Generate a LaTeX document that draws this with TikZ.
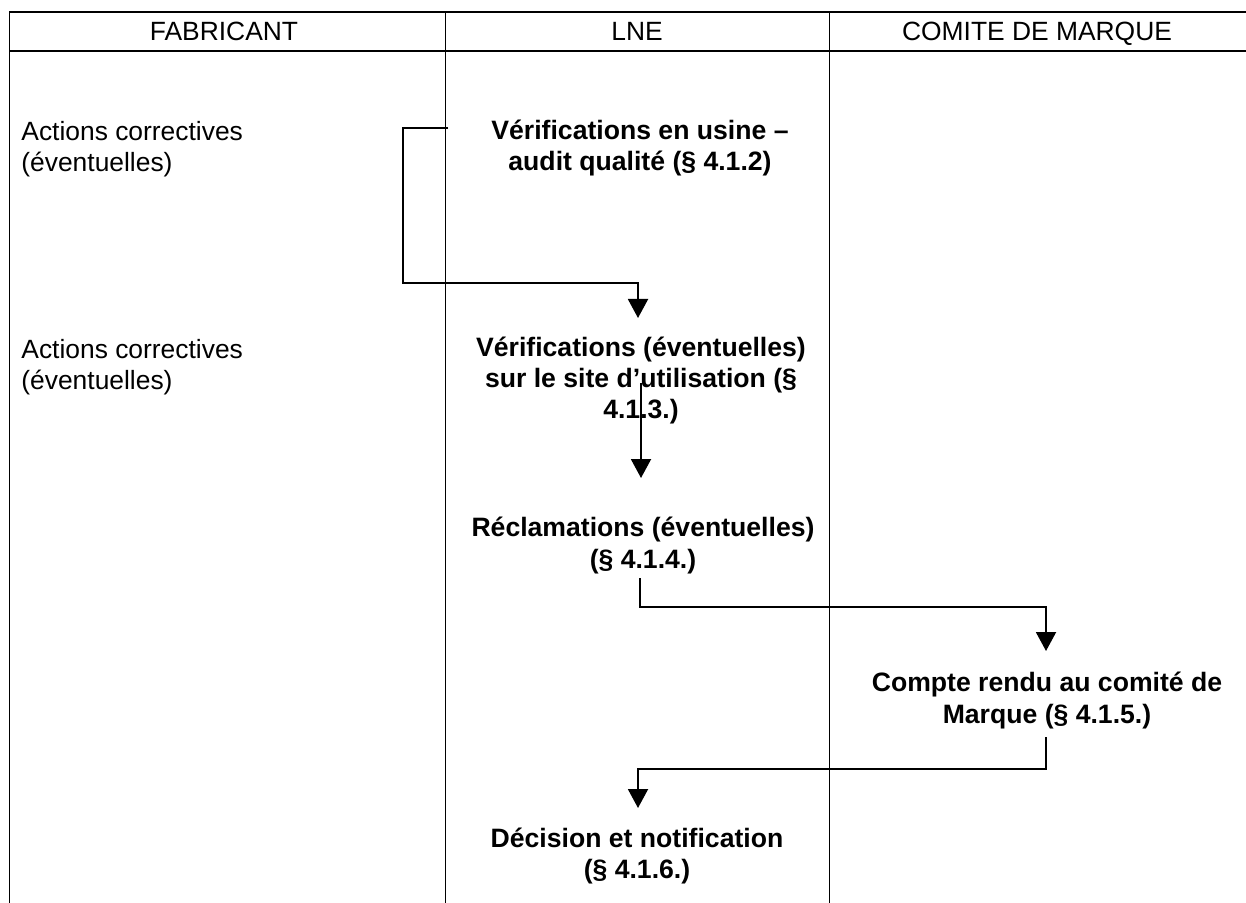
\documentclass[tikz,border=0pt]{standalone}
\usepackage{fontspec}
\setmainfont{Liberation Sans}
\usetikzlibrary{arrows.meta}
\begin{document}
\begin{tikzpicture}[x=0.5pt,y=-0.5pt,
  tline/.style={line width=0.5pt},
  hline/.style={line width=0.7pt},
  conn/.style={line width=1pt},
  arr/.style={conn,-{Triangle[width=10pt,length=9.5pt]}},
  head/.style={font=\fontsize{13.2}{15.5}\selectfont, inner sep=0pt, anchor=base},
  lefttxt/.style={font=\fontsize{13.2}{15.8}\selectfont, inner sep=0pt, align=left, anchor=west},
  steptxt/.style={font=\fontsize{13.3}{15.6}\selectfont\bfseries, inner sep=0pt, align=center}]
\useasboundingbox (0,0) rectangle (1246,903);
% table
\draw[hline] (9,12) -- (1246,12);
\draw[hline] (9,51) -- (1246,51);
\draw[tline] (9,12) -- (9,903);
\draw[tline] (445,12) -- (445,903);
\draw[tline] (829,12) -- (829,903);
% headers
\node[head] (hf) at (224,41) {FABRICANT};
\node[head] (hl) at (637,41) {LNE};
\node[head] (hc) at (1037,41) {COMITE DE MARQUE};
% left texts
\node[lefttxt] (l1) at (21,149) {Actions correctives\\(éventuelles)};
\node[lefttxt] (l2) at (21,367) {Actions correctives\\(éventuelles)};
% steps
\node[steptxt] (s1) at (640,148) {Vérifications en usine –\\audit qualité (§ 4.1.2)};
\node[steptxt] (s2) at (641,380.5) {Vérifications (éventuelles)\\sur le site d’utilisation (§\\4.1.3.)};
\node[steptxt] (s3) at (643,545.5) {Réclamations (éventuelles)\\(§ 4.1.4.)};
\node[steptxt] (s4) at (1047,700.5) {Compte rendu au comité de\\Marque (§ 4.1.5.)};
\node[steptxt] (s5) at (637,856) {Décision et notification\\(§ 4.1.6.)};
% connector coordinates
\coordinate (a1s) at (448,128);
\coordinate (a1m) at (403,283);
\coordinate (a1e) at (638,318);
\coordinate (a2s) at (641,383);
\coordinate (a2e) at (641,478);
\coordinate (a3s) at (640,578);
\coordinate (a3m) at (1046,607);
\coordinate (a3e) at (1046,651);
\coordinate (a4s) at (1046,737);
\coordinate (a4m) at (638,769);
\coordinate (a4e) at (638,808);
\draw[arr] (a1s) -| (a1m) -| (a1e);
\draw[arr] (a2s) -- (a2e);
\draw[arr] (a3s) |- (a3m) -- (a3e);
\draw[arr] (a4s) |- (a4m) -- (a4e);
\end{tikzpicture}
\end{document}
